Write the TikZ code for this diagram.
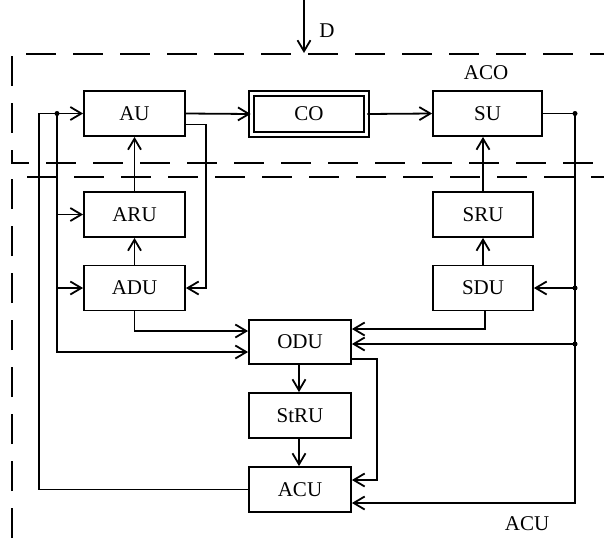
\documentclass[tikz,border=0pt]{standalone}
\usepackage{fontspec}
\setmainfont{Liberation Serif}
\usetikzlibrary{arrows.meta}
\begin{document}
\begin{tikzpicture}[x=1pt,y=-1pt,
  every node/.style={font=\fontsize{21}{24}\selectfont},
  blk/.style={draw,line width=1.8pt,minimum height=45pt,inner sep=0pt},
  conn/.style={line width=1.8pt},
  arr/.style={conn,-{Straight Barb[length=11pt,width=13pt,line width=1.8pt]}},
  region/.style={line width=1.6pt,dash pattern=on 30pt off 17pt},
  jdot/.style={circle,fill,inner sep=0pt,minimum size=5pt}]
\useasboundingbox (0,0) rectangle (604,538);
% regions
\draw[region] (26,54) -- (604,54);
\draw[region] (12,56) -- (12,163) -- (604,163);
\draw[region] (12,538) -- (12,177) -- (604,177);
% blocks
\node[blk,minimum width=101pt] (AU) at (134.5,113.5) {AU};
\node[draw,line width=1.6pt,double,double distance=3.2pt,minimum width=115pt,minimum height=41pt,inner sep=0pt] (CO) at (309,114) {CO};
\node[blk,minimum width=109pt] (SU) at (487.5,113.5) {SU};
\node[blk,minimum width=101pt] (ARU) at (134.5,214.5) {ARU};
\node[blk,minimum width=101pt] (ADU) at (134.5,288) {ADU};
\node[blk,minimum width=100pt] (SRU) at (483,214.5) {SRU};
\node[blk,minimum width=100pt] (SDU) at (483,288) {SDU};
\node[blk,minimum width=102pt,minimum height=44pt] (ODU) at (300,342) {ODU};
\node[blk,minimum width=102pt] (StRU) at (300,415.5) {StRU};
\node[blk,minimum width=102pt] (ACU) at (300,489.5) {ACU};
% labels
\node (lD) at (327,31) {D};
\node (lACO) at (486,73) {ACO};
\node (lACU) at (527,524) {ACU};
% coordinates
\coordinate (Dtop) at (304,0);
\coordinate (Dbot) at (304,53);
\node[jdot] (d1) at (575,113.5) {};
\node[jdot] (d2) at (575,288) {};
\node[jdot] (d3) at (575,344) {};
\node[jdot] (d4) at (57,113.5) {};
% connectors
\draw[arr] (Dtop) -- (Dbot);
\draw[arr] (AU.east) -- (CO.west);
\draw[arr] (CO.east) -- (SU.west);
\draw[conn] (SU.east) -- (d1.center);
\draw[arr] (d1.center) -- (575,503) -- (ACU.east |- 0,503);
\draw[arr] (d2.center) -- (SDU.east);
\draw[arr] (d3.center) -- (ODU.east |- 0,344);
\draw[arr] (SDU.south -| 485,0) -- (485,329) -- (ODU.east |- 0,329);
\draw[arr] (SDU.north) -- (SRU.south);
\draw[arr] (SRU.north) -- (SU.south -| SRU.north);
\draw[arr] (ADU.north) -- (ARU.south);
\draw[arr] (ARU.north) -- (AU.south);
\draw[arr] (AU.east |- 0,124.5) -- (206,124.5) -- (206,288) -- (ADU.east);
\draw[arr] (ADU.south) -- (134.5,331) -- (ODU.west |- 0,331);
\draw[arr] (d4.center) -- (57,352) -- (ODU.west |- 0,352);
\draw[arr] (57,214.5) -- (ARU.west);
\draw[arr] (57,288) -- (ADU.west);
\draw[arr] (ACU.west) -- (39,489.5) -- (39,113.5) -- (AU.west);
\draw[arr] (ODU.east |- 0,359) -- (377,359) -- (377,480) -- (ACU.east |- 0,480);
\draw[arr] (ODU.south -| 299,0) -- (StRU.north -| 299,0);
\draw[arr] (StRU.south -| 299,0) -- (ACU.north -| 299,0);
\end{tikzpicture}
\end{document}
